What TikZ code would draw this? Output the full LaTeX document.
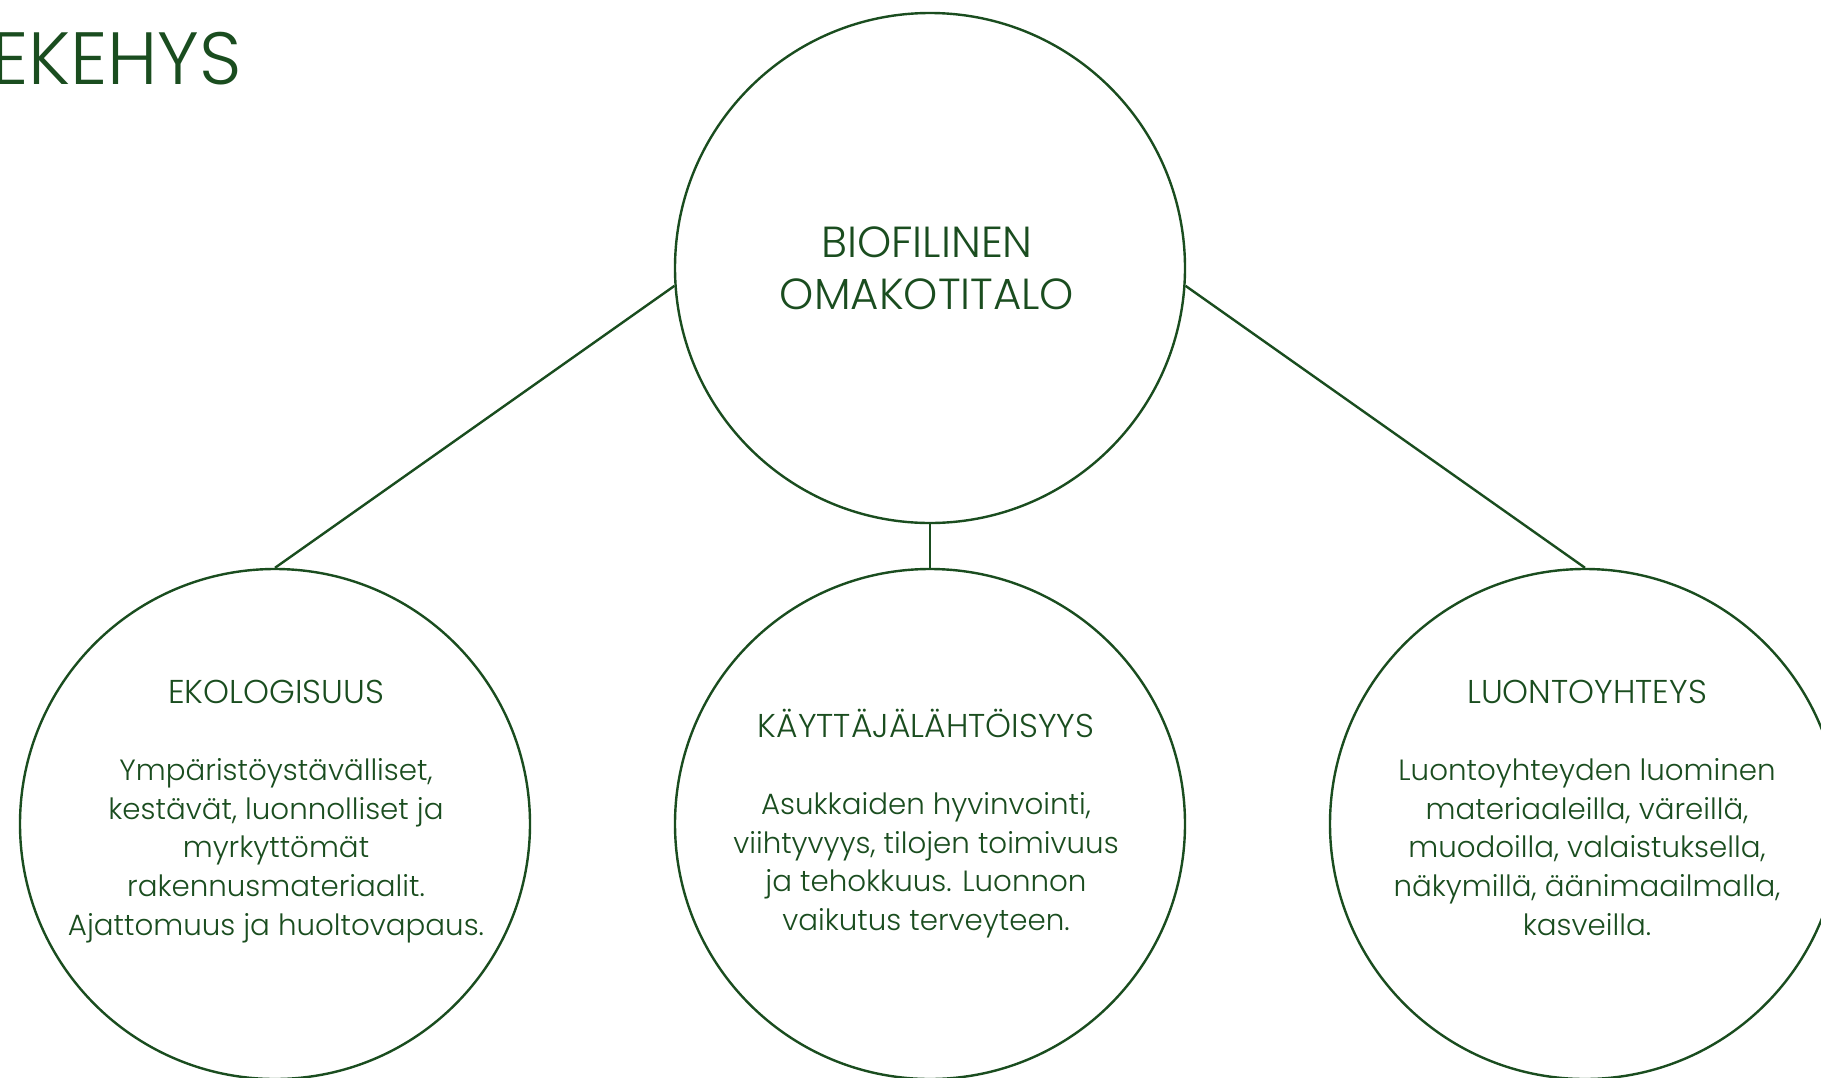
\documentclass[tikz,border=0pt]{standalone}
\usepackage{fontspec}
\setmainfont{Poppins Light}
\definecolor{leaf}{HTML}{1A4D1F}
\newcommand{\headsize}{\fontsize{33}{38.6}\selectfont}
\begin{document}
\begin{tikzpicture}[x=1pt,y=-1pt,
  ring/.style={draw=leaf,line width=2.4pt,circle,minimum size=510pt,inner sep=0pt},
  link/.style={draw=leaf,line width=2.4pt},
  body/.style={text=leaf,align=center,anchor=base,inner sep=0pt,font=\fontsize{29.3}{38.6}\selectfont},
  big/.style={text=leaf,align=center,anchor=base,inner sep=0pt,font=\fontsize{43.5}{52}\selectfont}]
\useasboundingbox (0,0) rectangle (1821,1077);
\fill[white] (0,0) rectangle (1821,1077);
\node[text=leaf,anchor=base east,inner sep=0pt,font=\fontsize{74}{75}\selectfont] (title) at (242,84) {EKEHYS};
\node[ring] (top) at (930,268) {};
\node[ring] (l) at (275,824) {};
\node[ring] (m) at (930,824) {};
\node[ring] (r) at (1585,824) {};
\draw[link] (top.184.4) -- (l.north);
\draw[link] (top.south) -- (m.north);
\draw[link] (top.-4.7) -- (r.north);
\node[big] (tt) at (927,309.5) {BIOFILINEN\\OMAKOTITALO};
\node[body] (lt) at (276,935) {{\headsize EKOLOGISUUS}\\[38.6pt]Ympäristöystävälliset,\\kestävät, luonnolliset ja\\myrkyttömät\\rakennusmateriaalit.\\Ajattomuus ja huoltovapaus.};
\node[body] (mt) at (926,930.5) {{\headsize KÄYTTÄJÄLÄHTÖISYYS}\\[38.6pt]Asukkaiden hyvinvointi,\\viihtyvyys, tilojen toimivuus\\ja tehokkuus. Luonnon\\vaikutus terveyteen.};
\node[body] (rt) at (1587,935) {{\headsize LUONTOYHTEYS}\\[38.6pt]Luontoyhteyden luominen\\materiaaleilla, väreillä,\\muodoilla, valaistuksella,\\näkymillä, äänimaailmalla,\\kasveilla.};
\end{tikzpicture}
\end{document}
